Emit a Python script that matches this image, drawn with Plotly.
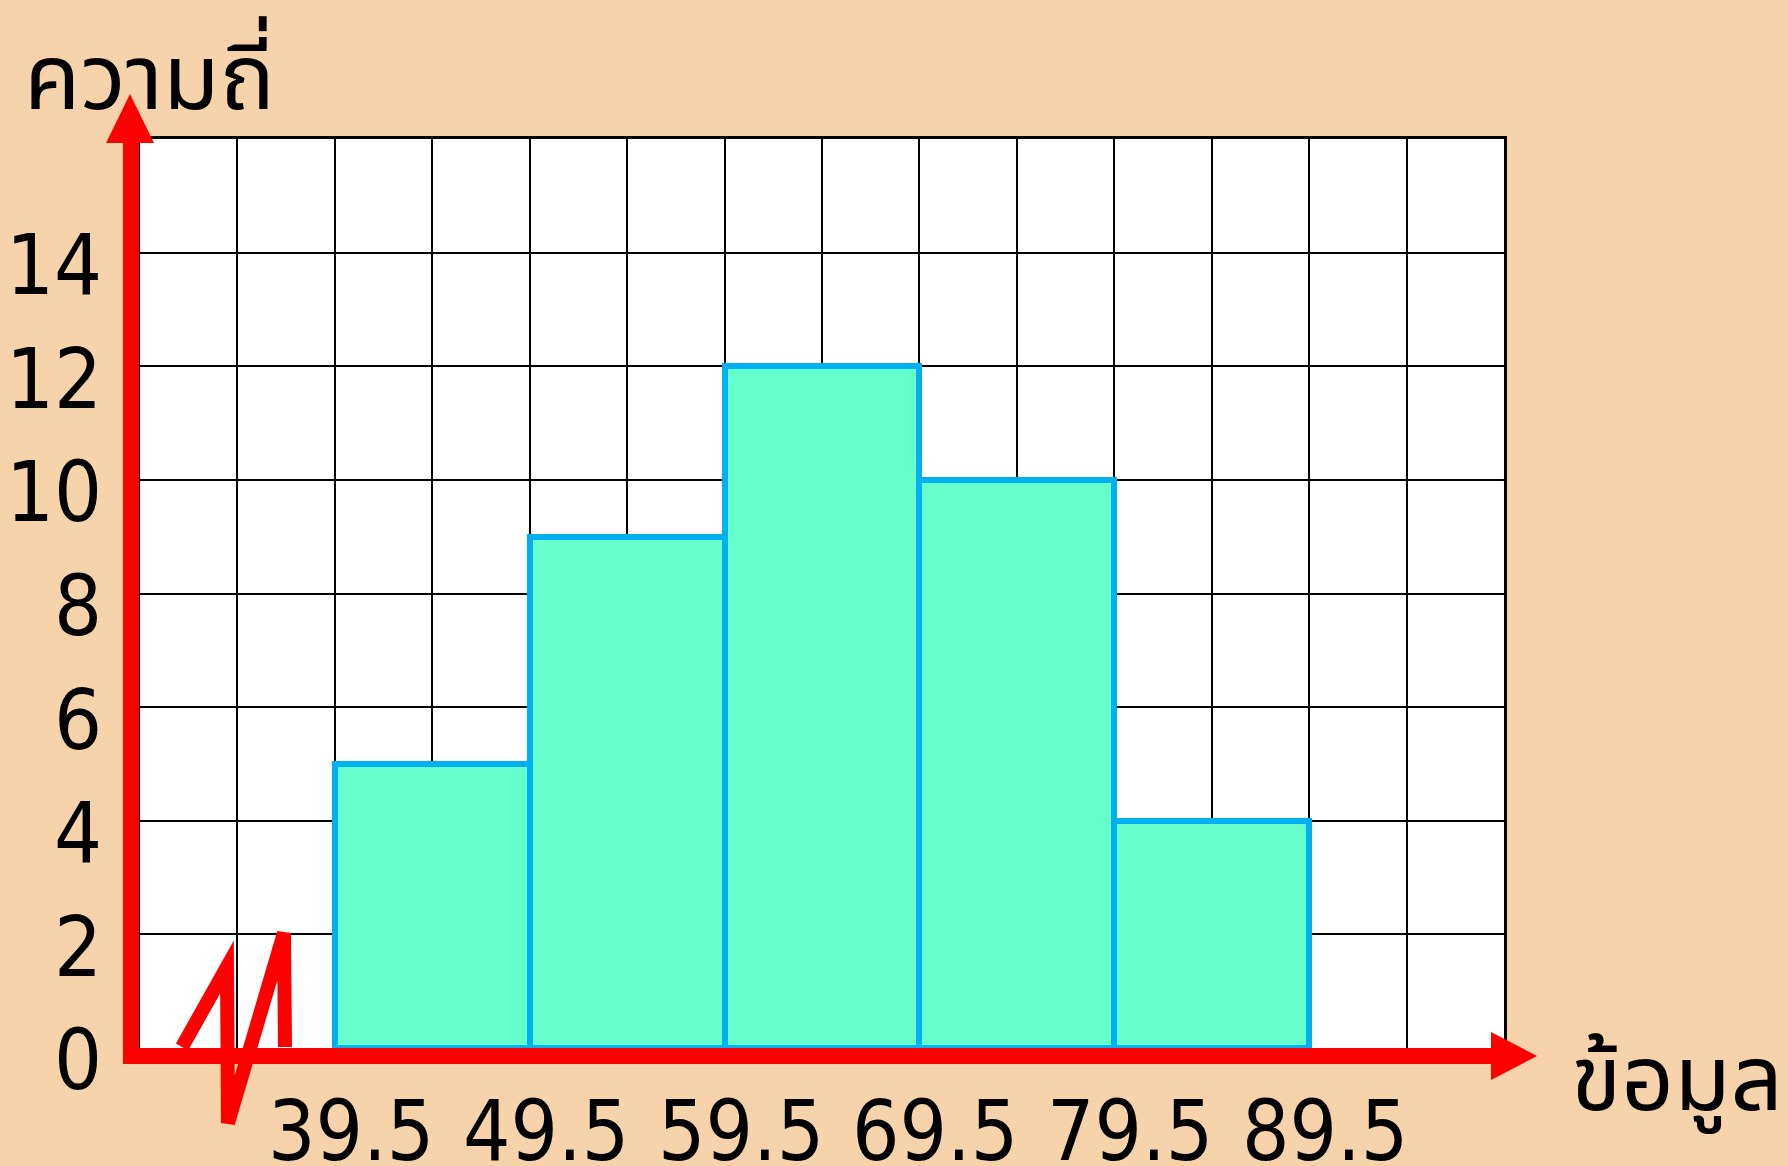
import plotly.graph_objects as go

# ---- data ----
bin_edges = [39.5, 49.5, 59.5, 69.5, 79.5, 89.5]
frequencies = [5, 9, 12, 10, 4]
x_tick_labels = ["39.5", "49.5", "59.5", "69.5", "79.5", "89.5"]
y_tick_values = [0, 2, 4, 6, 8, 10, 12, 14]
y_title = "ความถี่"
x_title = "ข้อมูล"

bin_centers = [(a + b) / 2 for a, b in zip(bin_edges[:-1], bin_edges[1:])]
bin_widths = [b - a for a, b in zip(bin_edges[:-1], bin_edges[1:])]

W, H = 1788, 1166
L, R, T, B = 140, 1504, 139, 1048
BG = "#F6D3AA"
RED = "#FF0000"


def px(x):
    return (x - L) / (R - L)


def py(y):
    return (B - y) / (B - T)


fig = go.Figure()
fig.add_trace(go.Bar(
    x=bin_centers, y=frequencies, width=bin_widths,
    marker=dict(color="#66FFCC", line=dict(color="#00B0F0", width=6)),
    showlegend=False, hoverinfo="skip",
))

shapes = []
# vertical red axis with arrow
shapes.append(dict(type="line", xref="paper", yref="paper",
                   x0=px(131), x1=px(131), y0=py(1064), y1=py(138),
                   line=dict(color=RED, width=16), layer="above"))
shapes.append(dict(type="path", xref="paper", yref="paper",
                   path=f"M {px(106)},{py(143)} L {px(130)},{py(94)} L {px(154)},{py(143)} Z",
                   fillcolor=RED, line=dict(color=RED, width=0), layer="above"))
# horizontal red axis with arrow
shapes.append(dict(type="line", xref="paper", yref="paper",
                   x0=px(123), x1=px(1495), y0=py(1056), y1=py(1056),
                   line=dict(color=RED, width=16), layer="above"))
shapes.append(dict(type="path", xref="paper", yref="paper",
                   path=f"M {px(1491)},{py(1032)} L {px(1537)},{py(1056)} L {px(1491)},{py(1080)} Z",
                   fillcolor=RED, line=dict(color=RED, width=0), layer="above"))
# axis break zigzag
zz = [(182, 1047), (227, 967), (228, 1123), (284, 933), (285, 1047)]
path = "M " + " L ".join(f"{px(a)},{py(b)}" for a, b in zz)
shapes.append(dict(type="path", xref="paper", yref="paper", path=path,
                   line=dict(color=RED, width=14), layer="above"))

THAI = "Noto Sans Thai, Noto Sans Thai UI, Loma, Garuda, Noto Sans, DejaVu Sans, sans-serif"
DIG = "DejaVu Sans Condensed, DejaVu Sans, sans-serif"

annotations = [
    dict(text=y_title, xref="paper", yref="paper", x=px(22), y=py(80),
         xanchor="left", yanchor="middle", showarrow=False,
         font=dict(family=THAI, size=92, color="black")),
    dict(text=x_title, xref="paper", yref="paper", x=px(1569), y=py(1081),
         xanchor="left", yanchor="middle", showarrow=False,
         font=dict(family=THAI, size=92, color="black")),
]
# x tick labels as annotations placed at the bin edges
for v, t in zip(bin_edges, x_tick_labels):
    annotations.append(dict(text=t, xref="x", yref="paper", x=v, y=py(1081),
                            xanchor="center", yanchor="top", xshift=16, showarrow=False,
                            font=dict(family=DIG, size=83, color="black")))

fig.update_layout(
    width=W, height=H,
    margin=dict(l=L, r=W - R, t=T, b=H - B, pad=0, autoexpand=False),
    paper_bgcolor=BG, plot_bgcolor="white",
    shapes=shapes, annotations=annotations,
    bargap=0,
    xaxis=dict(
        range=[29.5, 99.5], tickvals=bin_edges, showticklabels=False,
        showgrid=True, gridcolor="black", gridwidth=2,
        minor=dict(dtick=5, tick0=29.5, showgrid=True, gridcolor="black", gridwidth=2),
        showline=True, linecolor="black", linewidth=3, mirror=True,
        ticks="", zeroline=False, automargin=False,
    ),
    yaxis=dict(
        range=[0, 16], tickvals=y_tick_values,
        showgrid=True, gridcolor="black", gridwidth=2, dtick=2,
        showline=True, linecolor="black", linewidth=3, mirror=True,
        ticks="", zeroline=False, ticklabelshift=12, ticklabelstandoff=18,
        automargin=False,
        tickfont=dict(family=DIG, size=84, color="black"),
    ),
)

fig.write_html("out.html", config={"displayModeBar": False},
               post_script="document.body.style.margin='0';document.body.style.overflow='hidden';")
